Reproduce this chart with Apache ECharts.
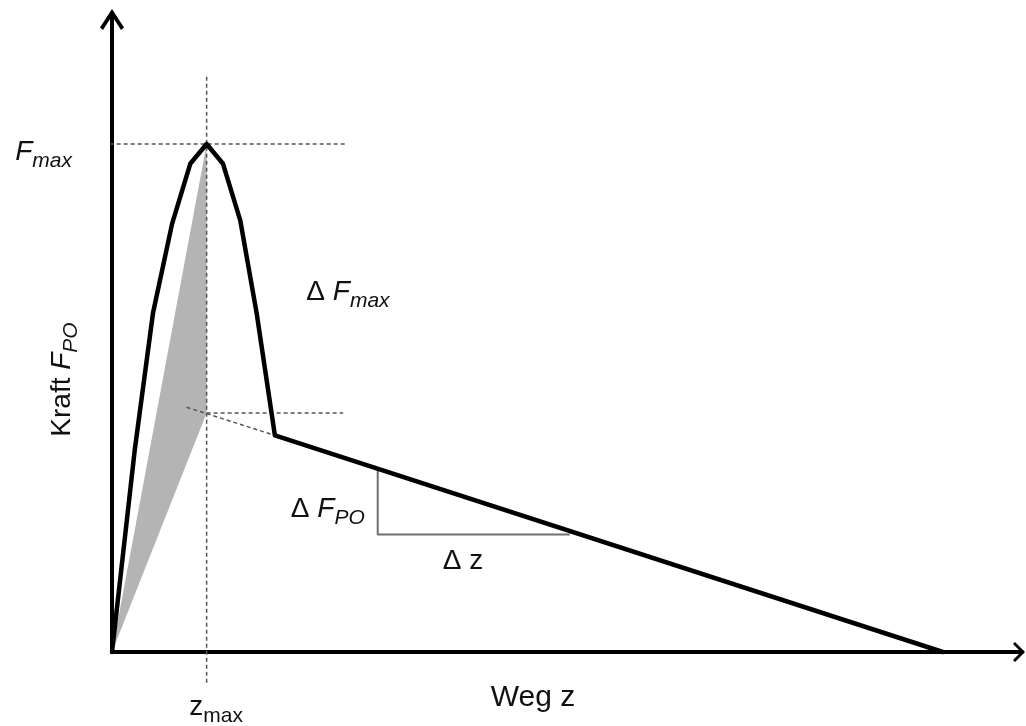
<!DOCTYPE html>
<html>
<head>
<meta charset="utf-8">
<script src="https://cdn.jsdelivr.net/npm/echarts@6/dist/echarts.min.js"></script>
<style>
  html, body { margin: 0; padding: 0; background: #fff; }
  #chart { width: 1026px; height: 726px; }
</style>
</head>
<body>
<div id="chart"></div>
<script>
// Force–displacement curve (pull-out test), arbitrary units
const zCurve = [0, 2.5, 4.5, 6.6, 8.6, 10.4, 12.2, 14.1, 15.9, 17.9, 91.3];
const fCurve = [0, 31.6, 53.0, 67.0, 76.4, 79.5, 76.4, 67.5, 53.0, 33.9, 0];

// Characteristic values
const zMax = 10.4;
const fMax = 79.5;
const fResidual = 37.4;          // extrapolated post-peak line at z_max

// Guide lines
const fMaxGuideZ = [-4.1, 25.6];
const fResGuideZ = [zMax, 25.4];
const zMaxGuideF = [-4.8, 90.3];
const tangentZ = [8.2, 17.9];
const tangentF = [38.3, 33.9];

// Slope triangle on the post-peak branch
const slopeLegZ = [29.2, 50.3];
const slopeLegF = [28.7, 18.4];

const FONT = "'Liberation Sans', Arial, sans-serif";
const TXT = '#111';

const richStyles = {
  n:   { fontFamily: FONT, fontSize: 28, lineHeight: 28, color: TXT, verticalAlign: 'bottom', padding: [0, 0, 6, 0] },
  it:  { fontFamily: FONT, fontSize: 28, lineHeight: 28, color: TXT, fontStyle: 'italic', verticalAlign: 'bottom', padding: [0, 0, 6, 0] },
  sub: { fontFamily: FONT, fontSize: 21, lineHeight: 21, color: TXT, fontStyle: 'italic', verticalAlign: 'bottom' },
  subn:{ fontFamily: FONT, fontSize: 21, lineHeight: 21, color: TXT, verticalAlign: 'bottom' }
};

const dashed = { color: '#555', width: 1.5, type: [4, 3] };

function guide(name, pts, style) {
  return {
    name: name, type: 'line', data: pts, symbol: 'none', clip: false, silent: true,
    z: 3, lineStyle: style, animation: false
  };
}

const curveData = zCurve.map((z, i) => [z, fCurve[i]]);

const yArrow = 'path://M12,0L24,18.5L21,21L12,7L3,21L0,18.5Z';
const xArrow = 'path://M10,0L20,10L18,12L10,4L2,12L0,10Z';

function lbl(value, text, pos, align) {
  return {
    value: value,
    label: {
      show: true, formatter: text, position: pos, color: TXT,
      textBorderWidth: 0, opacity: 1,
      align: align, verticalAlign: 'middle', rich: richStyles
    }
  };
}

const chart = echarts.init(document.getElementById('chart'));
chart.setOption({
  animation: false,
  backgroundColor: '#fff',
  grid: { left: 112, right: 4, top: 13, bottom: 74 },
  xAxis: {
    type: 'value', min: 0, max: 100,
    axisLine: {
      show: true, onZero: false,
      symbol: ['none', xArrow], symbolSize: [20, 12], symbolOffset: [0, -3],
      lineStyle: { color: '#000', width: 4 }
    },
    axisTick: { show: false }, axisLabel: { show: false }, splitLine: { show: false },
    name: 'Weg z', nameLocation: 'middle', nameGap: 31,
    nameTextStyle: { fontFamily: FONT, fontSize: 30, color: TXT, padding: [0, 68, 0, 0] }
  },
  yAxis: {
    type: 'value', min: 0, max: 100,
    axisLine: {
      show: true, onZero: false,
      symbol: ['none', yArrow], symbolSize: [24, 21], symbolOffset: [0, -6.5],
      lineStyle: { color: '#000', width: 4 }
    },
    axisTick: { show: false }, axisLabel: { show: false }, splitLine: { show: false },
    name: '{n|Kraft }{it|F}{sub|PO}', nameLocation: 'middle', nameRotate: 90, nameGap: 30,
    nameTextStyle: { color: TXT, rich: richStyles, padding: [0, 94, 0, 0] }
  },
  series: [
    {
      name: 'Arbeit', type: 'custom', z: 1, clip: false, silent: true,
      data: [[0, 0]],
      renderItem: function (params, api) {
        const pts = [[0, 0], [zMax, fMax], [zMax, fResidual]].map(p => api.coord(p));
        return { type: 'polygon', shape: { points: pts }, style: { fill: '#b4b4b4' } };
      }
    },
    guide('zmax', zMaxGuideF.map(f => [zMax, f]), dashed),
    guide('Fmax', fMaxGuideZ.map(z => [z, fMax]), dashed),
    guide('Fres', fResGuideZ.map(z => [z, fResidual]), dashed),
    guide('Tangente', tangentZ.map((z, i) => [z, tangentF[i]]), dashed),
    guide('dF', [[slopeLegZ[0], slopeLegF[0]], [slopeLegZ[0], slopeLegF[1]], [slopeLegZ[1], slopeLegF[1]]],
          { color: '#707070', width: 2, type: 'solid' }),
    {
      name: 'Kraft', type: 'line', data: curveData, symbol: 'none', z: 5, clip: false,
      lineStyle: { color: '#000', width: 4.5, join: 'round', cap: 'round' }
    },
    {
      name: 'Beschriftung', type: 'scatter', symbolSize: 0, z: 6, silent: true,
      itemStyle: { color: 'transparent' },
      data: [
        lbl([0, fMax], '{it|F}{sub|max}', [-40, 14], 'right'),
        lbl([fMaxGuideZ[1], (fMax + fResidual) / 2], '{n|Δ }{it|F}{sub|max}', [3, 19.5], 'center'),
        lbl([slopeLegZ[0], (slopeLegF[0] + slopeLegF[1]) / 2], '{n|Δ }{it|F}{sub|PO}', [-13, 13.5], 'right'),
        lbl([(slopeLegZ[0] + slopeLegZ[1]) / 2, slopeLegF[1]], '{n|Δ z}', [-10.7, 33], 'center'),
        lbl([zMax, 0], '{n|z}{subn|max}', [9.5, 61], 'center')
      ]
    }
  ]
});
</script>
</body>
</html>
